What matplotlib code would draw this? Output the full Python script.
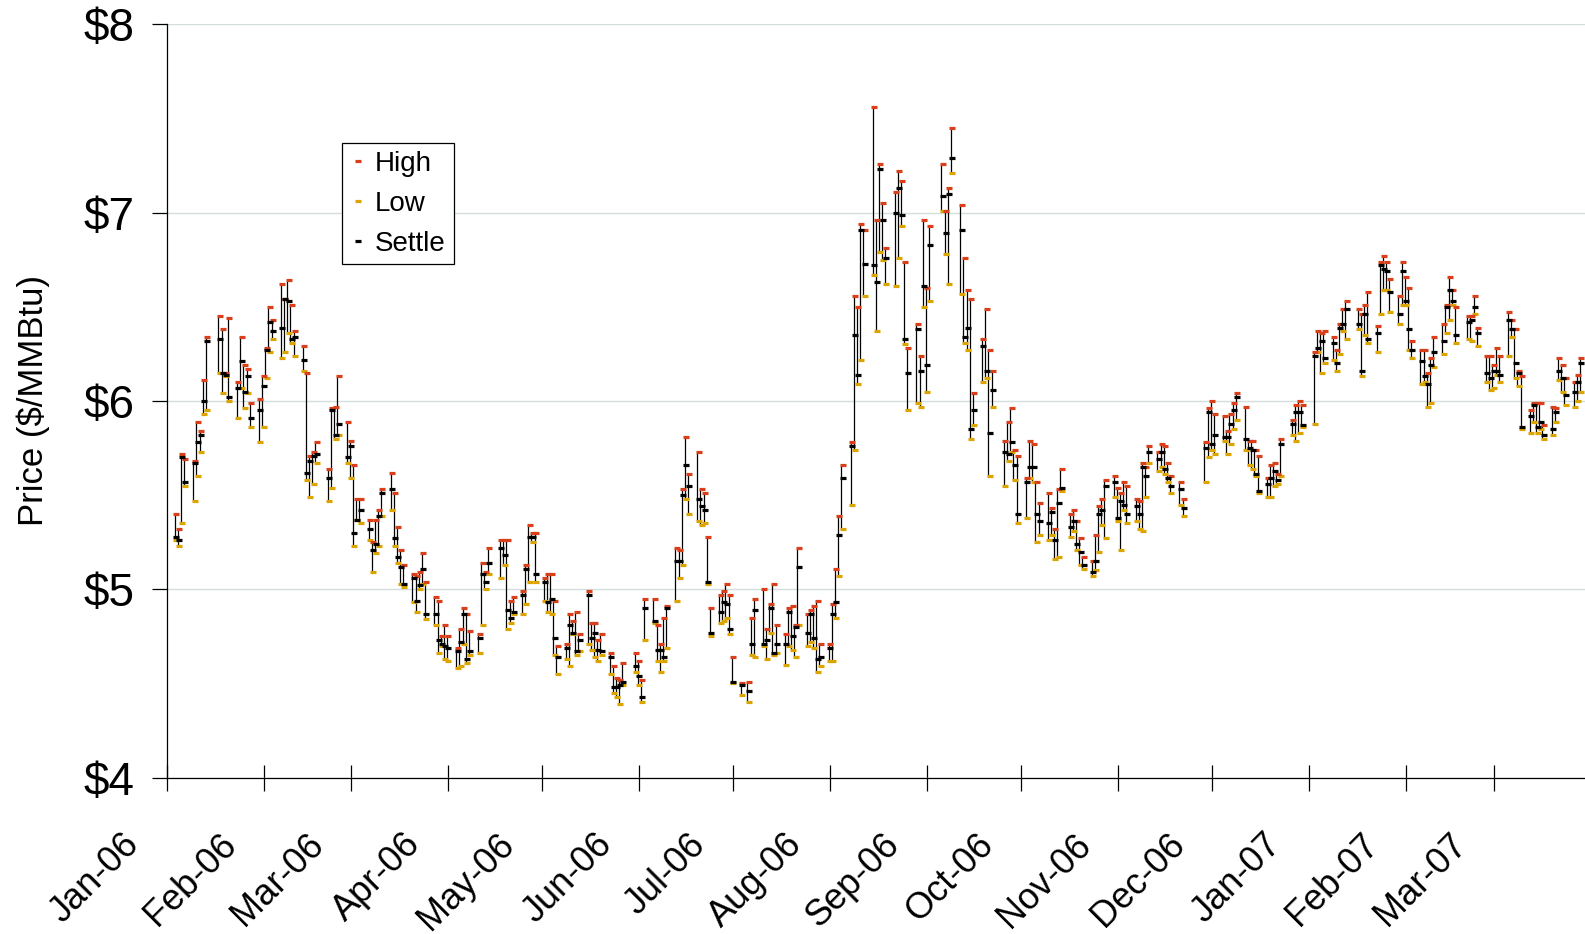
import numpy as np
import pandas as pd
import matplotlib
matplotlib.use("Agg")
import matplotlib.pyplot as plt
import matplotlib.dates as mdates
from matplotlib.lines import Line2D
from matplotlib.transforms import ScaledTranslation

nan = np.nan

# exchange holidays (no trading)
holidays = ["2006-01-16", "2006-02-20", "2006-04-14", "2006-05-29", "2006-07-04",
            "2006-09-04", "2006-11-23", "2006-12-25", "2007-01-01", "2007-01-15",
            "2007-02-19"]

# daily prices, $/MMBtu, one row per month (nan = no bar drawn)
high = [
    5.40, 5.32, 5.72, 5.69, 5.68, 5.89, 5.84, 6.11, 6.34, 6.45, 6.38, 6.15, 6.44, 6.10, 6.34, 6.19, 6.17, 5.99, 6.01, 6.13,
    6.28, 6.50, 6.43, 6.62, 6.54, 6.64, 6.51, 6.37, 6.29, 6.15, 5.71, 5.73, 5.78, 5.64, 5.96, 5.97, 6.13, 5.89, 5.79,
    5.66, 5.48, 5.48, 5.37, 5.25, 5.37, 5.42, 5.53, 5.62, 5.51, 5.33, 5.21, 5.13, 5.08, 5.07, 5.09, 5.19, 5.04, 4.96, 4.94, 4.75, 4.81, 4.75,
    4.69, 4.79, 4.90, 4.87, 4.78, 4.76, 5.14, 5.09, 5.22, 5.26, 5.26, 5.26, 4.94, 4.96, 4.99, 5.13, 5.34, 5.30, 5.30,
    5.06, 5.08, 5.08, 4.94, 4.70, 4.71, 4.87, 4.83, 4.88, 4.76, 4.99, 4.82, 4.82, 4.73, 4.76, 4.66, 4.59, 4.53, 4.52, 4.61, 4.66, 4.62,
    4.52, 4.95, 4.95, 4.81, 4.71, 4.85, 4.91, 5.22, 5.21, 5.53, 5.81, 5.61, 5.73, 5.53, 5.51, 5.28, 4.90, 4.97, 4.99, 5.03, 4.97, 4.64,
    4.50, 4.51, 4.85, 4.95, 5.00, 4.79, 4.92, 5.03, 4.81, 4.76, 4.90, 4.91, 4.81, 5.22, 4.87, 4.89, 4.91, 4.94, 4.71, 4.71,
    4.92, 5.11, 5.39, 5.66, 5.78, 6.56, 6.50, 6.94, 6.91, 7.56, 6.96, 7.26, 7.05, 6.81, 7.11, 7.22, 7.17, 6.74, 6.28, 6.41, 6.24, 6.96, 6.60,
    6.93, 7.26, 7.01, 7.13, 7.45, 7.04, 6.76, 6.59, 6.54, 6.04, 6.33, 6.49, 6.27, 6.16, nan, 5.79, 5.89, 5.96, 5.74, 5.71,
    5.59, 5.79, 5.77, 5.57, 5.46, 5.51, 5.43, 5.32, 5.53, 5.64, 5.40, 5.42, 5.36, 5.27, 5.17, 5.15, 5.29, 5.44, 5.48, 5.58, 5.60, 5.54,
    5.51, 5.57, 5.55, 5.48, 5.47, 5.67, 5.65, 5.76, 5.73, 5.77, 5.76, 5.67, 5.60, 5.57, 5.48, nan, nan, nan, 5.78, 5.96, 6.00,
    5.93, 5.92, 5.84, 5.93, 5.99, 6.04, 5.97, 5.79, 5.79, 5.74, 5.71, 5.59, 5.66, 5.67, 5.61, 5.80, 5.90, 5.98, 6.00, 5.98,
    6.26, 6.37, 6.36, 6.37, 6.34, 6.27, 6.41, 6.49, 6.53, 6.49, 6.46, 6.51, 6.58, 6.40, 6.74, 6.77, 6.74, 6.65, 6.56, 6.74, 6.66,
    6.60, 6.32, 6.27, 6.27, 6.15, 6.23, 6.34, 6.41, 6.51, 6.66, 6.59, 6.50, 6.45, 6.45, 6.56, 6.39, 6.24, 6.24, 6.19,
    6.28, 6.24, 6.47, 6.43, 6.38, 6.16, 6.13, 5.95, 5.99, 5.99, 5.99, 5.87, 5.97, 5.96, 6.23, 6.19, 6.12, 6.10, 6.14, 6.23,
]
low = [
    5.26, 5.23, 5.35, 5.55, 5.47, 5.60, 5.73, 5.93, 5.95, 6.15, 6.04, 6.13, 6.00, 5.91, 6.07, 5.96, 6.04, 5.86, 5.78, 5.86,
    6.12, 6.26, 6.33, 6.23, 6.26, 6.36, 6.31, 6.24, 6.16, 5.58, 5.49, 5.56, 5.67, 5.47, 5.54, 5.80, 5.82, 5.67, 5.59,
    5.23, 5.37, 5.35, 5.26, 5.09, 5.19, 5.23, 5.39, 5.42, 5.23, 5.14, 5.03, 5.01, 4.93, 4.88, 5.00, 5.03, 4.84, 4.81, 4.66, 4.70, 4.63, 4.62,
    4.58, 4.59, 4.71, 4.61, 4.65, 4.66, 4.81, 5.00, 5.08, 5.06, 5.13, 4.79, 4.82, 4.87, 4.87, 4.92, 5.04, 5.25, 5.04,
    4.94, 4.88, 4.87, 4.65, 4.55, 4.63, 4.59, 4.76, 4.65, 4.67, 4.71, 4.68, 4.64, 4.62, 4.65, 4.55, 4.45, 4.43, 4.39, 4.49, 4.56, 4.49,
    4.40, 4.73, 4.82, 4.62, 4.56, 4.62, 4.69, 4.94, 5.06, 5.13, 5.48, 5.40, 5.36, 5.34, 5.35, 5.03, 4.75, 4.82, 4.83, 4.85, 4.76, 4.50,
    4.44, 4.40, 4.65, 4.64, 4.70, 4.63, 4.77, 4.65, 4.66, 4.60, 4.70, 4.68, 4.64, 4.81, 4.70, 4.72, 4.69, 4.56, 4.59, 4.62,
    4.62, 4.85, 5.07, 5.32, 5.45, 5.74, 6.09, 6.22, 6.56, 6.67, 6.37, 6.79, 6.75, 6.62, 6.61, 6.76, 6.93, 6.30, 5.95, 5.99, 5.97, 6.50, 6.05,
    6.53, 7.01, 6.78, 6.62, 7.21, 6.57, 6.31, 6.27, 5.80, 5.87, 6.10, 6.12, 5.60, 5.97, nan, 5.55, 5.68, 5.73, 5.58, 5.35,
    5.38, 5.59, 5.57, 5.25, 5.29, 5.26, 5.29, 5.16, 5.17, 5.52, 5.28, 5.31, 5.21, 5.13, 5.11, 5.07, 5.10, 5.20, 5.34, 5.27, 5.49, 5.36,
    5.21, 5.42, 5.35, 5.36, 5.32, 5.31, 5.49, 5.67, 5.63, 5.65, 5.61, 5.57, 5.51, 5.45, 5.39, nan, nan, nan, 5.57, 5.70, 5.74,
    5.72, 5.79, 5.72, 5.77, 5.85, 5.90, 5.74, 5.66, 5.64, 5.60, 5.51, 5.49, 5.49, 5.55, 5.56, 5.60, 5.82, 5.79, 5.83, 5.86,
    5.88, 6.26, 6.15, 6.20, 6.22, 6.16, 6.25, 6.37, 6.33, 6.38, 6.13, 6.35, 6.31, 6.26, 6.46, 6.59, 6.59, 6.47, 6.41, 6.51, 6.51,
    6.27, 6.23, 6.09, 6.10, 5.97, 5.99, 6.18, 6.25, 6.36, 6.43, 6.51, 6.31, 6.33, 6.32, 6.46, 6.29, 6.10, 6.06, 6.07,
    6.14, 6.10, 6.24, 6.34, 6.12, 6.08, 5.85, 5.83, 5.89, 5.83, 5.85, 5.80, 5.82, 5.89, 6.11, 6.05, 5.98, 5.97, 6.00, 6.05,
]
settle = [
    5.28, 5.26, 5.70, 5.57, 5.67, 5.78, 5.82, 6.00, 6.32, 6.33, 6.15, 6.14, 6.02, 6.07, 6.21, 6.05, 6.13, 5.91, 5.95, 6.08,
    6.27, 6.42, 6.37, 6.39, 6.54, 6.53, 6.33, 6.34, 6.22, 5.62, 5.68, 5.71, 5.72, 5.59, 5.95, 5.82, 5.88, 5.70, 5.76,
    5.30, 5.37, 5.42, 5.32, 5.21, 5.24, 5.39, 5.51, 5.53, 5.27, 5.17, 5.12, 5.03, 5.06, 4.94, 5.02, 5.11, 4.87, 4.87, 4.73, 4.71, 4.70, 4.69,
    4.67, 4.72, 4.87, 4.63, 4.67, 4.74, 5.08, 5.04, 5.14, 5.22, 5.18, 4.89, 4.85, 4.88, 4.97, 5.11, 5.28, 5.28, 5.08,
    5.04, 4.93, 4.95, 4.74, 4.64, 4.69, 4.81, 4.77, 4.67, 4.73, 4.97, 4.74, 4.77, 4.68, 4.67, 4.64, 4.48, 4.48, 4.49, 4.51, 4.59, 4.54,
    4.43, 4.90, 4.83, 4.68, 4.68, 4.64, 4.90, 5.15, 5.15, 5.50, 5.66, 5.55, 5.48, 5.44, 5.42, 5.04, 4.77, 4.88, 4.93, 4.92, 4.79, 4.51,
    4.49, 4.46, 4.71, 4.89, 4.71, 4.73, 4.90, 4.66, 4.71, 4.71, 4.88, 4.75, 4.80, 5.12, 4.77, 4.87, 4.74, 4.63, 4.64, 4.69,
    4.87, 4.93, 5.29, 5.59, 5.76, 6.35, 6.14, 6.91, 6.73, 6.72, 6.63, 7.23, 6.96, 6.76, 7.00, 7.13, 6.99, 6.33, 6.15, 6.38, 6.16, 6.61, 6.19,
    6.83, 7.09, 6.89, 7.10, 7.29, 6.91, 6.34, 6.39, 5.85, 5.95, 6.29, 6.16, 5.83, 6.06, nan, 5.73, 5.72, 5.78, 5.66, 5.40,
    5.57, 5.65, 5.65, 5.40, 5.36, 5.35, 5.41, 5.26, 5.46, 5.54, 5.33, 5.36, 5.24, 5.20, 5.13, 5.09, 5.15, 5.40, 5.42, 5.55, 5.57, 5.38,
    5.47, 5.45, 5.40, 5.44, 5.40, 5.65, 5.60, 5.73, 5.69, 5.73, 5.64, 5.59, 5.55, 5.53, 5.43, nan, nan, nan, 5.75, 5.94, 5.77,
    5.82, 5.81, 5.81, 5.88, 5.95, 6.02, 5.80, 5.75, 5.74, 5.61, 5.52, 5.56, 5.59, 5.63, 5.58, 5.77, 5.88, 5.94, 5.94, 5.87,
    6.24, 6.28, 6.32, 6.23, 6.31, 6.20, 6.39, 6.41, 6.49, 6.41, 6.16, 6.46, 6.33, 6.36, 6.72, 6.70, 6.69, 6.58, 6.46, 6.69, 6.53,
    6.38, 6.27, 6.21, 6.13, 6.09, 6.19, 6.26, 6.32, 6.50, 6.59, 6.53, 6.35, 6.42, 6.43, 6.50, 6.36, 6.15, 6.12, 6.16,
    6.16, 6.14, 6.43, 6.38, 6.20, 6.15, 5.86, 5.92, 5.98, 5.86, 5.89, 5.82, 5.85, 5.94, 6.16, 6.12, 6.03, 6.05, 6.10, 6.20,
]

yticks = [4, 5, 6, 7, 8]
ytick_labels = ["$4", "$5", "$6", "$7", "$8"]

days = pd.bdate_range("2006-01-03", "2007-03-28")
days = days[~days.isin(pd.to_datetime(holidays))]
assert len(days) == len(high) == len(low) == len(settle), (len(days), len(high), len(low), len(settle))

high = np.array(high)
low = np.array(low)
settle = np.array(settle)

plt.rcParams["font.family"] = ["Liberation Sans", "DejaVu Sans"]

RED = "#d8401c"
GOLD = "#dca400"

fig = plt.figure(figsize=(15.85, 9.34), dpi=100)
ax = fig.add_axes([0.1052, 0.1675, 0.8948, 0.8064])

x = days + pd.Timedelta(hours=12)
ax.vlines(x, low, high, color="black", lw=0.9, zorder=2)
xm = x + pd.Timedelta(hours=10)
mk = dict(marker="_", linestyle="none", markersize=3.8, markeredgewidth=2.3, zorder=3)
ax.plot(xm, low, color=GOLD, **mk)
ax.plot(xm, high, color=RED, **mk)
ax.plot(xm, settle, color="black", **mk)

ax.set_ylim(4, 8)
ax.set_xlim(pd.Timestamp("2006-01-01"), pd.Timestamp("2007-03-30 02:00"))
ax.set_yticks(yticks)
ax.set_yticklabels(ytick_labels)
ax.yaxis.grid(True, color="#d3dfdf", lw=1.0)
ax.set_axisbelow(True)

ax.xaxis.set_major_locator(mdates.MonthLocator())
ax.xaxis.set_major_formatter(mdates.DateFormatter("%b-%y"))

for s in ["top", "right"]:
    ax.spines[s].set_visible(False)
for s in ["left", "bottom"]:
    ax.spines[s].set_linewidth(0.9)

ax.tick_params(axis="y", direction="out", length=10.5, width=0.9, labelsize=33, pad=13)
ax.tick_params(axis="x", direction="inout", length=19, width=0.9, labelsize=26, pad=35)

shift = ScaledTranslation(-0.33, 0, fig.dpi_scale_trans)
for lab in ax.get_xticklabels():
    lab.set_rotation(45)
    lab.set_ha("right")
    lab.set_va("center")
    lab.set_rotation_mode("anchor")
    lab.set_transform(lab.get_transform() + shift)

ax.set_ylabel("Price ($/MMBtu)", fontsize=25)
ax.yaxis.set_label_coords(-0.082, 0.5)

handles = [
    Line2D([], [], color=RED, **mk),
    Line2D([], [], color=GOLD, **mk),
    Line2D([], [], color="black", **mk),
]
leg = ax.legend(handles, ["High", "Low", "Settle"], loc="upper left",
                bbox_to_anchor=(0.1238, 0.8425), borderaxespad=0,
                fontsize=20, frameon=True, fancybox=False, framealpha=1,
                edgecolor="black", handlelength=0.6, handletextpad=0.3,
                labelspacing=0.5, borderpad=0.28)
leg.get_frame().set_linewidth(0.9)

fig.savefig("out.png", dpi=100)
plt.close(fig)
